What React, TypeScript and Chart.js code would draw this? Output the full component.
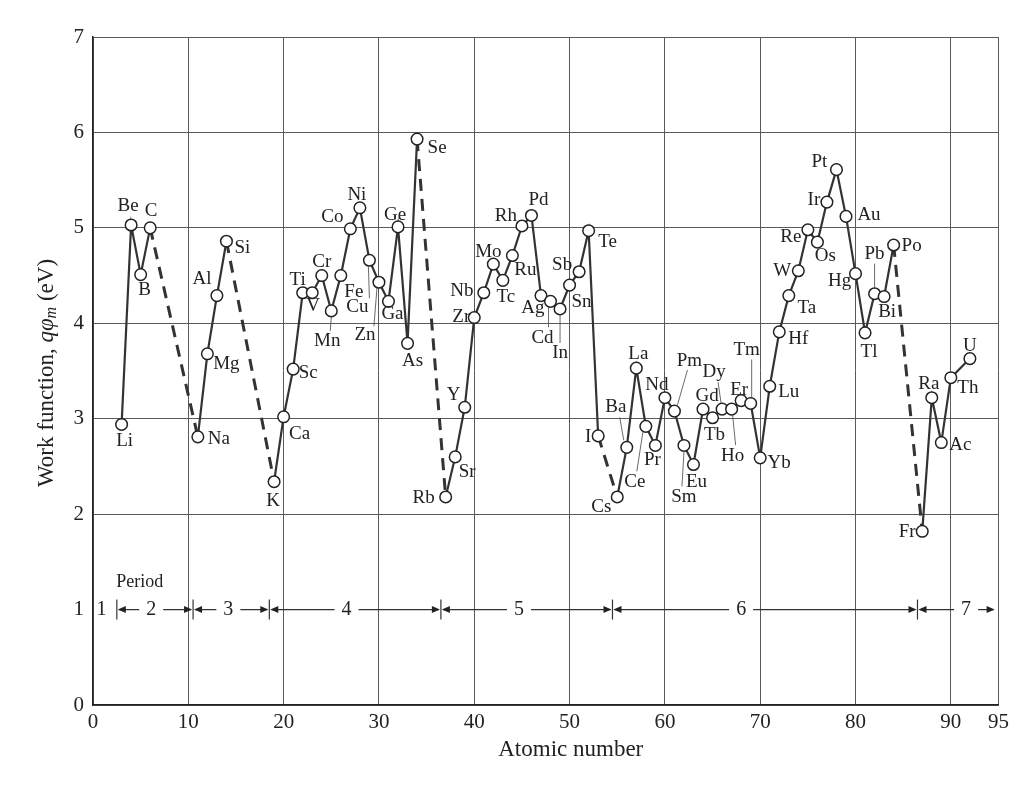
import React, { useEffect, useRef } from 'react';
import { Chart, registerables } from 'chart.js';

Chart.register(...registerables);

// ---------- data ----------
const symbols = [
  'Li', 'Be', 'B', 'C',
  'Na', 'Mg', 'Al', 'Si',
  'K', 'Ca', 'Sc', 'Ti', 'V', 'Cr', 'Mn', 'Fe', 'Co', 'Ni', 'Cu', 'Zn', 'Ga', 'Ge', 'As', 'Se',
  'Rb', 'Sr', 'Y', 'Zr', 'Nb', 'Mo', 'Tc', 'Ru', 'Rh', 'Pd', 'Ag', 'Cd', 'In', 'Sn', 'Sb', 'Te', 'I',
  'Cs', 'Ba', 'La', 'Ce', 'Pr', 'Nd', 'Pm', 'Sm', 'Eu', 'Gd', 'Tb', 'Dy', 'Ho', 'Er', 'Tm', 'Yb', 'Lu',
  'Hf', 'Ta', 'W', 'Re', 'Os', 'Ir', 'Pt', 'Au', 'Hg', 'Tl', 'Pb', 'Bi', 'Po',
  'Fr', 'Ra', 'Ac', 'Th', 'U',
];

const atomicNumbers = [
  3, 4, 5, 6,
  11, 12, 13, 14,
  19, 20, 21, 22, 23, 24, 25, 26, 27, 28, 29, 30, 31, 32, 33, 34,
  37, 38, 39, 40, 41, 42, 43, 44, 45, 46, 47, 48, 49, 50, 51, 52, 53,
  55, 56, 57, 58, 59, 60, 61, 62, 63, 64, 65, 66, 67, 68, 69, 70, 71,
  72, 73, 74, 75, 76, 77, 78, 79, 80, 81, 82, 83, 84,
  87, 88, 89, 90, 92,
];

const workFunctions = [
  2.94, 5.03, 4.51, 5.0,
  2.81, 3.68, 4.29, 4.86,
  2.34, 3.02, 3.52, 4.32, 4.32, 4.5, 4.13, 4.5, 4.99, 5.21, 4.66, 4.43, 4.23, 5.01, 3.79, 5.93,
  2.18, 2.6, 3.12, 4.06, 4.32, 4.62, 4.45, 4.71, 5.02, 5.13, 4.29, 4.23, 4.15, 4.4, 4.54, 4.97, 2.82,
  2.18, 2.7, 3.53, 2.92, 2.72, 3.22, 3.08, 2.72, 2.52, 3.1, 3.01, 3.1, 3.1, 3.19, 3.16, 2.59, 3.34,
  3.91, 4.29, 4.55, 4.98, 4.85, 5.27, 5.61, 5.12, 4.52, 3.9, 4.31, 4.28, 4.82,
  1.82, 3.22, 2.75, 3.43, 3.63,
];

// atomic numbers where a dashed (inter-period) segment begins
const dashedFrom = [6, 14, 34, 53, 84];

const xTickValues = [0, 10, 20, 30, 40, 50, 60, 70, 80, 90, 95];
const yTickValues = [0, 1, 2, 3, 4, 5, 6, 7];

const periodNames = ['1', '2', '3', '4', '5', '6', '7'];
const periodBoundaries = [2.5, 10.5, 18.5, 36.5, 54.5, 86.5];
const periodLabelAt = [0.9, 6.1, 14.2, 26.6, 44.7, 68, 91.6];
const periodEnd = 94.7;
const periodRowValue = 1.0;

// ---------- label layout (pixel offsets from each point) ----------
type LabelLayout = { d: [number, number]; l?: [number, number, number, number] };
const labelLayout: Record<string, LabelLayout> = {
  Li: { d: [3, 17] }, Be: { d: [-3, -19] }, B: { d: [4, 15] }, C: { d: [1, -17] },
  Na: { d: [21, 2] }, Mg: { d: [19, 10] }, Al: { d: [-15, -17] }, Si: { d: [16, 7] },
  K: { d: [-1, 19] }, Ca: { d: [16, 17] }, Sc: { d: [15, 4] }, Ti: { d: [-5, -13] },
  V: { d: [1, 13] }, Cr: { d: [0, -14] }, Mn: { d: [-4, 30], l: [0, 6, -1, 20] },
  Fe: { d: [13, 16] }, Co: { d: [-18, -12] }, Ni: { d: [-3, -13] },
  Cu: { d: [-12, 47], l: [-1, 6, 0, 38] }, Zn: { d: [-14, 53], l: [-2, 6, -5, 44] },
  Ga: { d: [4, 13] }, Ge: { d: [-3, -12] }, As: { d: [5, 18] }, Se: { d: [20, 9] },
  Rb: { d: [-22, 1] }, Sr: { d: [12, 15] }, Y: { d: [-11, -12] }, Zr: { d: [-13, -1] },
  Nb: { d: [-22, -2] }, Mo: { d: [-5, -12] }, Tc: { d: [3, 17] }, Ru: { d: [13, 14] },
  Rh: { d: [-16, -10] }, Pd: { d: [7, -15] }, Ag: { d: [-8, 12] },
  Cd: { d: [-8, 37], l: [-2, 6, -2, 26] }, In: { d: [0, 44], l: [0, 6, 0, 34] },
  Sn: { d: [12, 17] }, Sb: { d: [-17, -7] }, Te: { d: [19, 11] }, I: { d: [-10, 1] },
  Cs: { d: [-16, 10] }, Ba: { d: [-11, -40], l: [-3, -7, -7, -30] }, La: { d: [2, -14] },
  Ce: { d: [-11, 56], l: [-3, 6, -9, 45] }, Pr: { d: [-3, 15] }, Nd: { d: [-8, -13] },
  Pm: { d: [15, -50], l: [13, -41, 3, -6] }, Sm: { d: [0, 52], l: [0, 6, -2, 41] },
  Eu: { d: [3, 17] }, Gd: { d: [4, -13] }, Tb: { d: [2, 17] },
  Dy: { d: [-8, -37], l: [-1, -6, -4, -27] }, Ho: { d: [1, 47], l: [1, 6, 4, 36] },
  Er: { d: [-2, -11] }, Tm: { d: [-4, -53], l: [1, -6, 1, -44] },
  Yb: { d: [19, 5] }, Lu: { d: [19, 6] }, Hf: { d: [19, 7] }, Ta: { d: [18, 12] },
  W: { d: [-16, 0] }, Re: { d: [-17, 7] }, Os: { d: [8, 14] }, Ir: { d: [-13, -2] },
  Pt: { d: [-17, -8] }, Au: { d: [23, -1] }, Hg: { d: [-16, 7] }, Tl: { d: [4, 19] },
  Pb: { d: [0, -40], l: [0, -6, 0, -30] }, Bi: { d: [3, 15] }, Po: { d: [18, 1] },
  Fr: { d: [-15, 1] }, Ra: { d: [-3, -14] }, Ac: { d: [19, 2] }, Th: { d: [17, 10] },
  U: { d: [0, -13] },
};

const SERIF = '"Liberation Serif", "Times New Roman", serif';
const INK = '#222';

const annotationPlugin = {
  id: 'workFunctionAnnotations',
  afterDatasetsDraw(chart: any) {
    const ctx: CanvasRenderingContext2D = chart.ctx;
    const meta = chart.getDatasetMeta(0);
    const xs = chart.scales.x;
    const ys = chart.scales.y;
    ctx.save();

    // element labels
    ctx.font = `19px ${SERIF}`;
    ctx.fillStyle = INK;
    ctx.strokeStyle = '#444';
    ctx.lineWidth = 0.8;
    ctx.textAlign = 'center';
    ctx.textBaseline = 'middle';
    meta.data.forEach((pt: any, i: number) => {
      const sym = symbols[i];
      const lay = labelLayout[sym];
      if (!lay) return;
      if (lay.l) {
        ctx.beginPath();
        ctx.moveTo(pt.x + lay.l[0], pt.y + lay.l[1]);
        ctx.lineTo(pt.x + lay.l[2], pt.y + lay.l[3]);
        ctx.stroke();
      }
      ctx.fillText(sym, pt.x + lay.d[0], pt.y + lay.d[1]);
    });

    // period row
    const py = ys.getPixelForValue(periodRowValue);
    ctx.strokeStyle = '#333';
    ctx.fillStyle = INK;
    ctx.lineWidth = 1.2;
    periodBoundaries.forEach((b) => {
      const bx = xs.getPixelForValue(b);
      ctx.beginPath();
      ctx.moveTo(bx, py - 10);
      ctx.lineTo(bx, py + 10);
      ctx.stroke();
    });
    ctx.font = `20px ${SERIF}`;
    const arrow = (tipX: number, dir: number) => {
      ctx.beginPath();
      ctx.moveTo(tipX, py);
      ctx.lineTo(tipX - dir * 8, py - 3.5);
      ctx.lineTo(tipX - dir * 8, py + 3.5);
      ctx.closePath();
      ctx.fill();
    };
    periodNames.forEach((name, i) => {
      const lx = xs.getPixelForValue(periodLabelAt[i]);
      ctx.fillText(name, lx, py);
      if (i === 0) return;
      const start = xs.getPixelForValue(periodBoundaries[i - 1]);
      const end = xs.getPixelForValue(i < periodBoundaries.length ? periodBoundaries[i] : periodEnd);
      const half = ctx.measureText(name).width / 2 + 7;
      ctx.beginPath();
      ctx.moveTo(start + 2, py);
      ctx.lineTo(lx - half, py);
      ctx.moveTo(lx + half, py);
      ctx.lineTo(end - 2, py);
      ctx.stroke();
      arrow(start + 1, -1);
      arrow(end - 1, 1);
    });
    ctx.font = `18px ${SERIF}`;
    ctx.fillText('Period', xs.getPixelForValue(4.9), ys.getPixelForValue(1.29));

    // x-axis title
    ctx.font = `23px ${SERIF}`;
    ctx.fillText('Atomic number', (xs.left + xs.right) / 2 + 25, 750);

    // y-axis title (rotated, mixed styles)
    const size = 23;
    const parts: { t: string; f: string; dy: number }[] = [
      { t: 'Work function, ', f: `${size}px ${SERIF}`, dy: 0 },
      { t: 'q\u03C6', f: `italic ${size}px ${SERIF}`, dy: 0 },
      { t: 'm', f: `italic ${Math.round(size * 0.7)}px ${SERIF}`, dy: 5 },
      { t: ' (eV)', f: `${size}px ${SERIF}`, dy: 0 },
    ];
    let total = 0;
    parts.forEach((p) => {
      ctx.font = p.f;
      total += ctx.measureText(p.t).width;
    });
    ctx.translate(47, 373);
    ctx.rotate(-Math.PI / 2);
    ctx.textAlign = 'left';
    ctx.textBaseline = 'middle';
    let cx = -total / 2;
    parts.forEach((p) => {
      ctx.font = p.f;
      ctx.fillText(p.t, cx, p.dy);
      cx += ctx.measureText(p.t).width;
    });
    ctx.restore();
  },
};

export default function App() {
  const canvasRef = useRef<HTMLCanvasElement | null>(null);

  useEffect(() => {
    if (!canvasRef.current) return;
    const points = atomicNumbers.map((z, i) => ({ x: z, y: workFunctions[i] }));
    const isDashed = (c: any) => dashedFrom.includes(c.p0.parsed.x);
    const chart = new Chart(canvasRef.current, {
      type: 'line',
      data: {
        datasets: [
          {
            data: points,
            borderColor: '#333',
            borderWidth: 2.2,
            pointRadius: 5.8,
            pointBackgroundColor: '#fff',
            pointBorderColor: '#222',
            pointBorderWidth: 1.5,
            tension: 0,
            fill: false,
            segment: {
              borderDash: (c: any) => (isDashed(c) ? [12, 8] : undefined),
              borderWidth: (c: any) => (isDashed(c) ? 3 : undefined),
            },
          } as any,
        ],
      },
      options: {
        animation: false,
        responsive: false,
        layout: { padding: { top: 37, right: 15, left: 0, bottom: 0 } },
        plugins: { legend: { display: false }, tooltip: { enabled: false }, title: { display: false } },
        scales: {
          x: {
            type: 'linear',
            min: 0,
            max: 95,
            afterBuildTicks: (s: any) => {
              s.ticks = xTickValues.map((v) => ({ value: v }));
            },
            afterFit: (s: any) => {
              s.height = 83;
            },
            grid: { color: '#5a5a5a', lineWidth: 1, drawTicks: false },
            border: { color: '#222', width: 1.5 },
            ticks: {
              autoSkip: false,
              maxRotation: 0,
              padding: 5,
              color: INK,
              font: { family: SERIF, size: 21 },
            },
          },
          y: {
            type: 'linear',
            min: 0,
            max: 7,
            afterBuildTicks: (s: any) => {
              s.ticks = yTickValues.map((v) => ({ value: v }));
            },
            afterFit: (s: any) => {
              s.width = 93;
            },
            grid: {
              color: (c: any) => (c.tick && c.tick.value === 1 ? 'rgba(0,0,0,0)' : '#5a5a5a'),
              lineWidth: 1,
              drawTicks: false,
            },
            border: { color: '#222', width: 1.5 },
            ticks: {
              padding: 9,
              color: INK,
              font: { family: SERIF, size: 21 },
            },
          },
        },
      },
      plugins: [annotationPlugin],
    });
    return () => chart.destroy();
  }, []);

  return (
    <div style={{ position: 'fixed', left: 0, top: 0, width: 1014, height: 788, background: '#fff' }}>
      <canvas ref={canvasRef} width={1014} height={788} style={{ display: 'block' }} />
    </div>
  );
}
